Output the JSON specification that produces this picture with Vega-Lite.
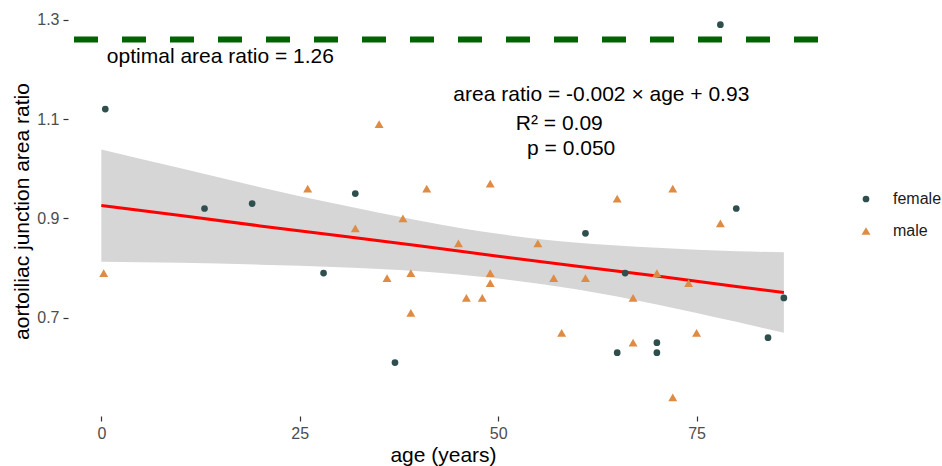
{
  "$schema": "https://vega.github.io/schema/vega-lite/v6.json",
  "width": 750,
  "height": 410,
  "autosize": {"type": "none"},
  "padding": {"left": 68, "top": 6, "right": 124, "bottom": 50},
  "background": "white",
  "config": {
    "view": {"stroke": null},
    "font": "Liberation Sans",
    "axis": {
      "domain": false,
      "grid": false,
      "tickColor": "#333333",
      "tickWidth": 1.2,
      "tickSize": 5,
      "labelFont": "Liberation Sans",
      "labelFontSize": 16,
      "labelColor": "#4d4d4d",
      "titleFont": "Liberation Sans",
      "titleFontSize": 21,
      "titleFontWeight": "normal",
      "titleColor": "#000000"
    },
    "axisX": {"labelPadding": 4, "titlePadding": 3},
    "axisY": {"labelPadding": 4, "titlePadding": 4}
  },
  "datasets": {
    "patients": [
      {"age": 0.5, "ratio": 1.12, "sex": "female"},
      {"age": 13, "ratio": 0.92, "sex": "female"},
      {"age": 19, "ratio": 0.93, "sex": "female"},
      {"age": 28, "ratio": 0.79, "sex": "female"},
      {"age": 32, "ratio": 0.95, "sex": "female"},
      {"age": 37, "ratio": 0.61, "sex": "female"},
      {"age": 61, "ratio": 0.87, "sex": "female"},
      {"age": 65, "ratio": 0.63, "sex": "female"},
      {"age": 66, "ratio": 0.79, "sex": "female"},
      {"age": 70, "ratio": 0.65, "sex": "female"},
      {"age": 70, "ratio": 0.63, "sex": "female"},
      {"age": 78, "ratio": 1.29, "sex": "female"},
      {"age": 80, "ratio": 0.92, "sex": "female"},
      {"age": 84, "ratio": 0.66, "sex": "female"},
      {"age": 86, "ratio": 0.74, "sex": "female"},
      {"age": 0.3, "ratio": 0.79, "sex": "male"},
      {"age": 26, "ratio": 0.96, "sex": "male"},
      {"age": 32, "ratio": 0.88, "sex": "male"},
      {"age": 35, "ratio": 1.09, "sex": "male"},
      {"age": 36, "ratio": 0.78, "sex": "male"},
      {"age": 38, "ratio": 0.90, "sex": "male"},
      {"age": 39, "ratio": 0.79, "sex": "male"},
      {"age": 39, "ratio": 0.71, "sex": "male"},
      {"age": 41, "ratio": 0.96, "sex": "male"},
      {"age": 45, "ratio": 0.85, "sex": "male"},
      {"age": 46, "ratio": 0.74, "sex": "male"},
      {"age": 48, "ratio": 0.74, "sex": "male"},
      {"age": 49, "ratio": 0.97, "sex": "male"},
      {"age": 49, "ratio": 0.79, "sex": "male"},
      {"age": 49, "ratio": 0.77, "sex": "male"},
      {"age": 55, "ratio": 0.85, "sex": "male"},
      {"age": 57, "ratio": 0.78, "sex": "male"},
      {"age": 58, "ratio": 0.67, "sex": "male"},
      {"age": 61, "ratio": 0.78, "sex": "male"},
      {"age": 65, "ratio": 0.94, "sex": "male"},
      {"age": 67, "ratio": 0.74, "sex": "male"},
      {"age": 67, "ratio": 0.65, "sex": "male"},
      {"age": 70, "ratio": 0.79, "sex": "male"},
      {"age": 72, "ratio": 0.96, "sex": "male"},
      {"age": 72, "ratio": 0.54, "sex": "male"},
      {"age": 74, "ratio": 0.77, "sex": "male"},
      {"age": 75, "ratio": 0.67, "sex": "male"},
      {"age": 78, "ratio": 0.89, "sex": "male"}
    ],
    "fit": [
      {"age": 0, "lo": 0.813, "fit": 0.926, "hi": 1.039},
      {"age": 10, "lo": 0.811, "fit": 0.906, "hi": 1.001},
      {"age": 20, "lo": 0.807, "fit": 0.885, "hi": 0.963},
      {"age": 30, "lo": 0.802, "fit": 0.865, "hi": 0.928},
      {"age": 40, "lo": 0.794, "fit": 0.845, "hi": 0.896},
      {"age": 50, "lo": 0.779, "fit": 0.824, "hi": 0.869},
      {"age": 60, "lo": 0.757, "fit": 0.804, "hi": 0.851},
      {"age": 70, "lo": 0.727, "fit": 0.784, "hi": 0.841},
      {"age": 80, "lo": 0.692, "fit": 0.763, "hi": 0.834},
      {"age": 86, "lo": 0.670, "fit": 0.751, "hi": 0.832}
    ],
    "optimal": [{"ratio": 1.26}],
    "notes": [
      {"age": 15.0, "ratio": 1.213, "label": "optimal area ratio = 1.26"},
      {"age": 63.0, "ratio": 1.1356, "label": "area ratio = -0.002 × age + 0.93"},
      {"age": 57.7, "ratio": 1.0787, "label": "R² = 0.09"},
      {"age": 59.2, "ratio": 1.0284, "label": "p = 0.050"}
    ]
  },
  "layer": [
    {
      "data": {"name": "fit"},
      "mark": {"type": "area", "color": "#d6d6d6", "opacity": 1, "interpolate": "monotone"},
      "encoding": {
        "x": {"field": "age", "type": "quantitative", "title": "age (years)", "scale": {"domain": [-4.2, 90.3], "nice": false, "zero": false}, "axis": {"values": [0, 25, 50, 75]}},
        "y": {"field": "lo", "type": "quantitative", "title": "aortoiliac junction area ratio", "scale": {"domain": [0.5025, 1.3275], "nice": false, "zero": false}, "axis": {"values": [0.7, 0.9, 1.1, 1.3], "format": ".1f"}},
        "y2": {"field": "hi"}
      }
    },
    {
      "data": {"name": "fit"},
      "mark": {"type": "line", "color": "#ff0000", "strokeWidth": 3},
      "encoding": {
        "x": {"field": "age", "type": "quantitative", "title": "age (years)", "scale": {"domain": [-4.2, 90.3], "nice": false, "zero": false}},
        "y": {"field": "fit", "type": "quantitative", "title": "aortoiliac junction area ratio", "scale": {"domain": [0.5025, 1.3275], "nice": false, "zero": false}}
      }
    },
    {
      "data": {"name": "optimal"},
      "mark": {"type": "rule", "color": "#006400", "strokeWidth": 6, "strokeDash": [24, 24]},
      "encoding": {
        "y": {"field": "ratio", "type": "quantitative", "title": "aortoiliac junction area ratio", "scale": {"domain": [0.5025, 1.3275], "nice": false, "zero": false}}
      }
    },
    {
      "data": {"name": "patients"},
      "mark": {"type": "point", "filled": true, "opacity": 1},
      "encoding": {
        "x": {"field": "age", "type": "quantitative", "title": "age (years)", "scale": {"domain": [-4.2, 90.3], "nice": false, "zero": false}},
        "y": {"field": "ratio", "type": "quantitative", "title": "aortoiliac junction area ratio", "scale": {"domain": [0.5025, 1.3275], "nice": false, "zero": false}},
        "color": {
          "field": "sex", "type": "nominal",
          "scale": {"domain": ["female", "male"], "range": ["#2f4f4f", "#de8c45"]},
          "legend": {"title": null, "orient": "none", "legendX": 790, "legendY": 185, "labelFontSize": 16, "labelColor": "#1a1a1a", "labelFont": "Liberation Sans", "rowPadding": 16, "labelOffset": 19, "symbolStrokeWidth": 0}
        },
        "shape": {
          "field": "sex", "type": "nominal",
          "scale": {"domain": ["female", "male"], "range": ["circle", "triangle-up"]}
        },
        "size": {
          "field": "sex", "type": "nominal",
          "scale": {"domain": ["female", "male"], "range": [45, 80]}
        }
      }
    },
    {
      "data": {"name": "notes"},
      "mark": {"type": "text", "fontSize": 21, "font": "Liberation Sans", "color": "#000000", "align": "center", "baseline": "alphabetic"},
      "encoding": {
        "x": {"field": "age", "type": "quantitative", "title": "age (years)", "scale": {"domain": [-4.2, 90.3], "nice": false, "zero": false}},
        "y": {"field": "ratio", "type": "quantitative", "title": "aortoiliac junction area ratio", "scale": {"domain": [0.5025, 1.3275], "nice": false, "zero": false}},
        "text": {"field": "label"}
      }
    }
  ]
}
